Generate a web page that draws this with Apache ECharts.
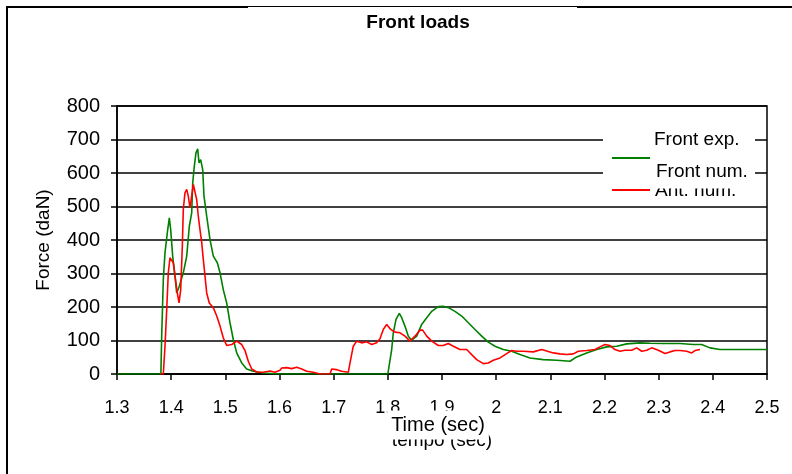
<!DOCTYPE html>
<html>
<head>
<meta charset="utf-8">
<script src="https://cdn.jsdelivr.net/npm/echarts@6/dist/echarts.min.js"></script>
<style>
html, body { margin: 0; padding: 0; background: #fff; }
#chart { width: 792px; height: 474px; }
</style>
</head>
<body>
<div id="chart"></div>
<script>
// values (time in sec, force in daN)
var frontNumTime = [1.3, 1.381, 1.3825, 1.3855, 1.3886, 1.3936, 1.3966, 1.3991, 1.4028, 1.4071, 1.4102, 1.415, 1.4224, 1.4287, 1.4335, 1.4379, 1.4398, 1.4427, 1.4458, 1.449, 1.4514, 1.4545, 1.4582, 1.4606, 1.4656, 1.4717, 1.4778, 1.4852, 1.4902, 1.4962, 1.5025, 1.5086, 1.5147, 1.521, 1.5302, 1.5394, 1.5516, 1.57, 1.6, 1.8, 1.8027, 1.8071, 1.8101, 1.8151, 1.8212, 1.8256, 1.8316, 1.8378, 1.8441, 1.8533, 1.8625, 1.8718, 1.881, 1.8932, 1.9024, 1.9116, 1.924, 1.9364, 1.9486, 1.9609, 1.9733, 1.9855, 1.9978, 2.0132, 2.0287, 2.044, 2.0625, 2.087, 2.1117, 2.1363, 2.1487, 2.1671, 2.1856, 2.2041, 2.2225, 2.241, 2.2655, 2.284, 2.3085, 2.3393, 2.3639, 2.3794, 2.3948, 2.4133, 2.4502, 2.5];
var frontNumForce = [0, 0, 113, 282, 362, 431, 466, 431, 352, 292, 242, 262, 302, 352, 441, 481, 571, 620, 660, 672, 630, 640, 610, 531, 471, 401, 352, 332, 302, 252, 212, 153, 103, 63, 33, 15, 8, 3, 0, 0, 4, 73, 123, 163, 181, 168, 143, 113, 101, 113, 148, 168, 187, 201, 202, 198, 187, 173, 153, 133, 113, 95, 83, 73, 68, 58, 48, 43, 41, 38, 51, 63, 73, 81, 83, 90, 93, 92, 91, 91, 88, 88, 78, 73, 73, 73];

var antNumTime = [1.38, 1.3855, 1.3886, 1.3918, 1.3947, 1.3978, 1.401, 1.4039, 1.4071, 1.4113, 1.4145, 1.4176, 1.4206, 1.4224, 1.4255, 1.4287, 1.4316, 1.4348, 1.4379, 1.4409, 1.444, 1.4471, 1.4501, 1.4532, 1.4564, 1.4593, 1.4625, 1.4656, 1.4704, 1.4778, 1.4841, 1.4902, 1.4962, 1.5025, 1.5118, 1.521, 1.5302, 1.5363, 1.5424, 1.5487, 1.5579, 1.5695, 1.5825, 1.5917, 1.6009, 1.6041, 1.6133, 1.6225, 1.6318, 1.641, 1.6502, 1.6624, 1.6748, 1.6932, 1.6964, 1.7056, 1.7148, 1.727, 1.7302, 1.7362, 1.7425, 1.7518, 1.761, 1.7702, 1.7794, 1.7855, 1.7916, 1.7979, 1.8053, 1.8132, 1.8225, 1.8317, 1.8409, 1.8501, 1.8594, 1.8643, 1.8718, 1.881, 1.8932, 1.9024, 1.9116, 1.9209, 1.9332, 1.9456, 1.9548, 1.9641, 1.9762, 1.9855, 1.9947, 2.0071, 2.0194, 2.0287, 2.0379, 2.0501, 2.0686, 2.0841, 2.1055, 2.1178, 2.1302, 2.1424, 2.1516, 2.1671, 2.1825, 2.1917, 2.2009, 2.2101, 2.2194, 2.2286, 2.2378, 2.2502, 2.2594, 2.2687, 2.2779, 2.2871, 2.2993, 2.3117, 2.3209, 2.3301, 2.3393, 2.3517, 2.361, 2.3671, 2.3763];
var antNumForce = [0, 0, 83, 193, 302, 347, 352, 332, 292, 242, 212, 252, 381, 491, 541, 551, 531, 496, 531, 566, 561, 521, 471, 431, 392, 342, 292, 242, 212, 198, 173, 143, 108, 85, 88, 98, 88, 70, 38, 15, 6, 5, 9, 5, 11, 18, 19, 16, 20, 15, 8, 5, 0, 0, 15, 13, 8, 5, 33, 83, 98, 93, 96, 88, 93, 105, 133, 148, 133, 125, 123, 113, 98, 113, 131, 131, 113, 98, 85, 85, 91, 83, 73, 73, 58, 43, 31, 33, 41, 48, 61, 70, 68, 68, 66, 73, 63, 60, 58, 60, 68, 70, 73, 81, 88, 85, 73, 68, 71, 71, 78, 68, 71, 78, 71, 61, 66, 70, 70, 68, 63, 70, 73];

function pairs(xs, ys) {
	var out = [];
	for (var i = 0; i < xs.length; i++) out.push([xs[i], ys[i]]);
	return out;
}

var font = 'Liberation Sans, Arial, sans-serif';

var option = {
	animation: false,
	backgroundColor: '#fff',
	title: {
		text: 'Front loads',
		left: 413,
		top: 8,
		textAlign: 'center',
		textStyle: { fontFamily: font, fontSize: 19, fontWeight: 'bold', color: '#000' }
	},
	grid: {
		left: 117, right: 25, top: 106, bottom: 100,
		show: true, borderColor: '#000', borderWidth: 1.5, backgroundColor: 'transparent'
	},
	xAxis: {
		type: 'value',
		min: 1.3, max: 2.5, interval: 0.1,
		name: 'tempo (sec)',
		nameLocation: 'middle',
		nameGap: 57,
		nameTextStyle: { fontFamily: font, fontSize: 19, color: '#000' },
		axisLine: { lineStyle: { color: '#000', width: 1.5 } },
		axisTick: { length: 6, lineStyle: { color: '#000', width: 1.5 } },
		axisLabel: {
			fontFamily: font, fontSize: 18, color: '#000', margin: 25,
			formatter: function (v) { return String(+v.toFixed(1)); }
		},
		splitLine: { show: false }
	},
	yAxis: {
		type: 'value',
		min: 0, max: 800, interval: 100,
		name: 'Force (daN)',
		nameLocation: 'middle',
		nameGap: 64,
		nameTextStyle: { fontFamily: font, fontSize: 19, color: '#000' },
		axisLine: { show: true, lineStyle: { color: '#000', width: 1.5 } },
		axisTick: { show: true, length: 6, lineStyle: { color: '#000', width: 1.5 } },
		axisLabel: { fontFamily: font, fontSize: 20, color: '#000', margin: 17 },
		splitLine: { lineStyle: { color: '#000', width: 1.5 } }
	},
	series: [
		{
			name: 'Front num.',
			type: 'line',
			symbol: 'none',
			data: pairs(frontNumTime, frontNumForce),
			lineStyle: { color: '#008000', width: 1.6 },
			itemStyle: { color: '#008000' }
		},
		{
			name: 'Ant. num.',
			type: 'line',
			symbol: 'none',
			data: pairs(antNumTime, antNumForce),
			lineStyle: { color: '#ff0000', width: 1.6 },
			itemStyle: { color: '#ff0000' }
		}
	],
	graphic: [
		// outer frame (left and top, with a thinner piece on top)
		{ type: 'line', z: 100, shape: { x1: 7, y1: 7, x2: 7, y2: 474 }, style: { stroke: '#000', lineWidth: 2 } },
		{ type: 'line', z: 100, shape: { x1: 6, y1: 7, x2: 248, y2: 7 }, style: { stroke: '#000', lineWidth: 2 } },
		{ type: 'line', z: 100, shape: { x1: 248, y1: 6.5, x2: 577, y2: 6.5 }, style: { stroke: '#000', lineWidth: 1 } },
		{ type: 'line', z: 100, shape: { x1: 577, y1: 7, x2: 792, y2: 7 }, style: { stroke: '#000', lineWidth: 2 } },
		// legend box
		{ type: 'rect', z: 100, shape: { x: 603, y: 124, width: 152, height: 76 }, style: { fill: '#fff' } },
		{ type: 'line', z: 101, shape: { x1: 612, y1: 158, x2: 650, y2: 158 }, style: { stroke: '#008000', lineWidth: 2 } },
		{ type: 'line', z: 101, shape: { x1: 612, y1: 190, x2: 650, y2: 190 }, style: { stroke: '#ff0000', lineWidth: 2 } },
		{ type: 'text', z: 101, x: 655, y: 191, style: { text: 'Ant. num.', font: '19px ' + font, fill: '#000', verticalAlign: 'middle' } },
		{ type: 'text', z: 102, x: 654, y: 140, style: { text: 'Front exp.', font: '19px ' + font, fill: '#000', verticalAlign: 'middle', backgroundColor: '#fff', padding: [2, 0, 2, 0] } },
		{ type: 'text', z: 103, x: 656, y: 172, style: { text: 'Front num.', font: '19px ' + font, fill: '#000', verticalAlign: 'middle', backgroundColor: '#fff', padding: [6, 0, 8, 0] } },
		// axis title drawn over the older one
		{ type: 'text', z: 104, x: 438, y: 425, style: { text: 'Time (sec)', font: '20px ' + font, fill: '#000', align: 'center', verticalAlign: 'middle', backgroundColor: '#fff', padding: [0, 4, 9, 4] } }
	]
};

var myChart = echarts.init(document.getElementById('chart'));
myChart.setOption(option);
</script>
</body>
</html>
